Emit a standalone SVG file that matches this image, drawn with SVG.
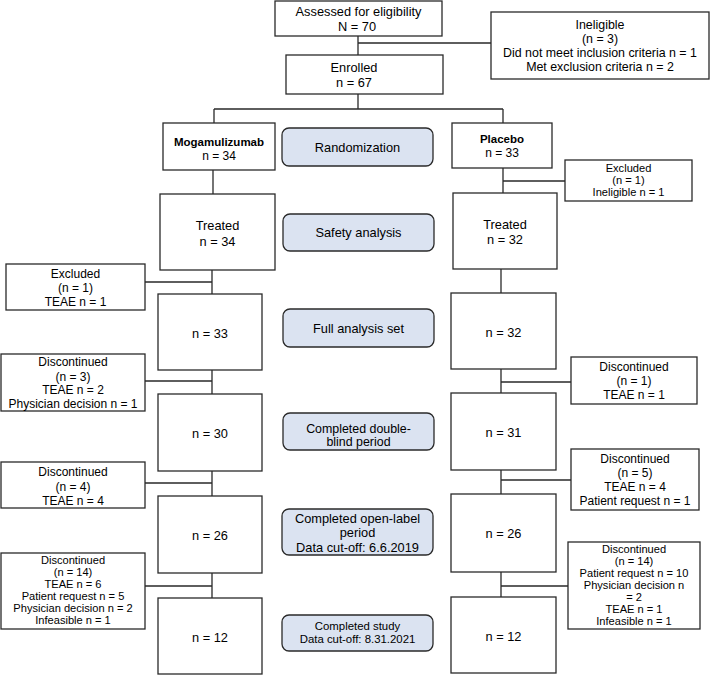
<svg xmlns="http://www.w3.org/2000/svg" width="710" height="675" viewBox="0 0 710 675">
<style>
text{font-family:"Liberation Sans",Arial,sans-serif;font-size:12.8px;fill:#000;text-anchor:middle}
.s{font-size:12px}
.t{font-size:11.1px}
.b{font-weight:bold;font-size:11.5px}
.box{fill:#fff;stroke:#2a2a2a;stroke-width:1.3}
.mid{fill:#dbe3f1;stroke:#2a2a2a;stroke-width:1.3}
.ln{fill:none;stroke:#2a2a2a;stroke-width:1.3}
</style>
<rect width="710" height="675" fill="#fff"/>
<g id="connectors">
<path class="ln" d="M358 36V55M358 43H491"/>
<path class="ln" d="M358 94V109M214 109H503M214 109V123M503 109V123"/>
<path class="ln" d="M213 170V194"/>
<path class="ln" d="M503 168V193M503 181H565"/>
<path class="ln" d="M212 270V294M145 282H212"/>
<path class="ln" d="M501 269V293"/>
<path class="ln" d="M212 370V394M145 381H212"/>
<path class="ln" d="M501 369V393M501 382H571"/>
<path class="ln" d="M212 471V496M145 483H212"/>
<path class="ln" d="M501 470V494M501 480H571"/>
<path class="ln" d="M212 573V598M145 586H212"/>
<path class="ln" d="M501 572V597M501 586H568"/>
</g>
<g id="assessed"><rect class="box" x="275" y="1" width="167" height="35"/><text x="358.5" y="16">Assessed for eligibility</text><text x="357" y="31">N = 70</text></g>
<g id="ineligible"><rect class="box" x="491" y="12" width="218" height="67"/><text x="600" y="29" style="font-size:12.4px">Ineligible</text><text x="600" y="43" style="font-size:12.4px">(n = 3)</text><text x="600" y="57" style="font-size:12.4px">Did not meet inclusion criteria n = 1</text><text x="600" y="71" style="font-size:12.4px">Met exclusion criteria n = 2</text></g>
<g id="enrolled"><rect class="box" x="286" y="55" width="157" height="39"/><text x="354" y="72">Enrolled</text><text x="354" y="87">n = 67</text></g>
<g id="moga"><rect class="box" x="163" y="123" width="112" height="47"/><text class="b" x="219" y="146">Mogamulizumab</text><text class="s" x="219" y="159.5">n = 34</text></g>
<g id="placebo"><rect class="box" x="452" y="123" width="100" height="45"/><text class="b" x="502" y="143">Placebo</text><text class="s" x="502" y="157">n = 33</text></g>
<g id="randomization"><rect class="mid" x="282" y="128" width="151" height="38" rx="7"/><text x="357.5" y="151.5">Randomization</text></g>
<g id="excluded-placebo"><rect class="box" x="565" y="160" width="127" height="41"/><text class="t" x="628.5" y="171.5">Excluded</text><text class="t" x="628.5" y="183.5">(n = 1)</text><text class="t" x="628.5" y="196">Ineligible n = 1</text></g>
<g id="treated-moga"><rect class="box" x="160" y="194" width="115" height="76"/><text x="217.5" y="229.5">Treated</text><text x="217.5" y="245.5">n = 34</text></g>
<g id="safety"><rect class="mid" x="283" y="214" width="151" height="37" rx="7"/><text x="358.5" y="237">Safety analysis</text></g>
<g id="treated-placebo"><rect class="box" x="453" y="193" width="104" height="76"/><text x="505" y="228.5">Treated</text><text x="505" y="244">n = 32</text></g>
<g id="excluded-moga"><rect class="box" x="6" y="264" width="139" height="46"/><text class="s" x="75.5" y="277.5">Excluded</text><text class="s" x="75.5" y="291.5">(n = 1)</text><text class="s" x="75.5" y="306">TEAE n = 1</text></g>
<g id="fas-moga"><rect class="box" x="158" y="294" width="104" height="76"/><text x="210" y="337.5">n = 33</text></g>
<g id="fas"><rect class="mid" x="283" y="309" width="151" height="38" rx="7"/><text x="358.5" y="332.5">Full analysis set</text></g>
<g id="fas-placebo"><rect class="box" x="451" y="293" width="105" height="76"/><text x="503.5" y="336.5">n = 32</text></g>
<g id="disc-moga-1"><rect class="box" x="1" y="354" width="144" height="57"/><text class="s" x="73" y="366">Discontinued</text><text class="s" x="73" y="380.5">(n = 3)</text><text class="s" x="73" y="394">TEAE n = 2</text><text class="s" x="73" y="408">Physician decision n = 1</text></g>
<g id="disc-placebo-1"><rect class="box" x="571" y="357" width="126" height="47"/><text class="s" x="634" y="371">Discontinued</text><text class="s" x="634" y="385">(n = 1)</text><text class="s" x="634" y="399">TEAE n = 1</text></g>
<g id="db-moga"><rect class="box" x="158" y="394" width="104" height="77"/><text x="210" y="437.5">n = 30</text></g>
<g id="db"><rect class="mid" x="283" y="413" width="151" height="37" rx="7"/><text x="358.5" y="432.5" style="font-size:12.4px">Completed double-</text><text x="358.5" y="446.3" style="font-size:12.4px">blind period</text></g>
<g id="db-placebo"><rect class="box" x="451" y="393" width="105" height="77"/><text x="503.5" y="436.5">n = 31</text></g>
<g id="disc-moga-2"><rect class="box" x="1" y="462" width="144" height="46"/><text class="s" x="73" y="476">Discontinued</text><text class="s" x="73" y="490.5">(n = 4)</text><text class="s" x="73" y="505">TEAE n = 4</text></g>
<g id="disc-placebo-2"><rect class="box" x="571" y="449" width="128" height="61"/><text class="s" x="635" y="463">Discontinued</text><text class="s" x="635" y="477">(n = 5)</text><text class="s" x="635" y="491">TEAE n = 4</text><text class="s" x="635" y="505">Patient request n = 1</text></g>
<g id="ol-moga"><rect class="box" x="158" y="496" width="104" height="77"/><text x="210" y="539.5">n = 26</text></g>
<g id="ol"><rect class="mid" x="282" y="509" width="151" height="46" rx="7"/><text x="357.5" y="522.5">Completed open-label</text><text x="357.5" y="537">period</text><text x="357.5" y="551.5">Data cut-off: 6.6.2019</text></g>
<g id="ol-placebo"><rect class="box" x="451" y="494" width="105" height="78"/><text x="503.5" y="537.5">n = 26</text></g>
<g id="disc-moga-3"><rect class="box" x="1" y="553" width="144" height="76"/><text class="t" x="73" y="564">Discontinued</text><text class="t" x="73" y="576">(n = 14)</text><text class="t" x="73" y="588">TEAE n = 6</text><text class="t" x="73" y="600">Patient request n = 5</text><text class="t" x="73" y="612">Physician decision n = 2</text><text class="t" x="73" y="624">Infeasible n = 1</text></g>
<g id="disc-placebo-3"><rect class="box" x="568" y="542" width="132" height="87"/><text class="t" x="634" y="553">Discontinued</text><text class="t" x="634" y="565">(n = 14)</text><text class="t" x="634" y="577">Patient request n = 10</text><text class="t" x="634" y="589">Physician decision n</text><text class="t" x="634" y="601">= 2</text><text class="t" x="634" y="613">TEAE n = 1</text><text class="t" x="634" y="625">Infeasible n = 1</text></g>
<g id="end-moga"><rect class="box" x="158" y="598" width="104" height="76"/><text x="210" y="641.5">n = 12</text></g>
<g id="study"><rect class="mid" x="282" y="615" width="151" height="36" rx="7"/><text x="357.5" y="630" style="font-size:11.4px">Completed study</text><text x="357.5" y="643" style="font-size:11.4px">Data cut-off: 8.31.2021</text></g>
<g id="end-placebo"><rect class="box" x="451" y="597" width="105" height="76"/><text x="503.5" y="640.5">n = 12</text></g>
</svg>
